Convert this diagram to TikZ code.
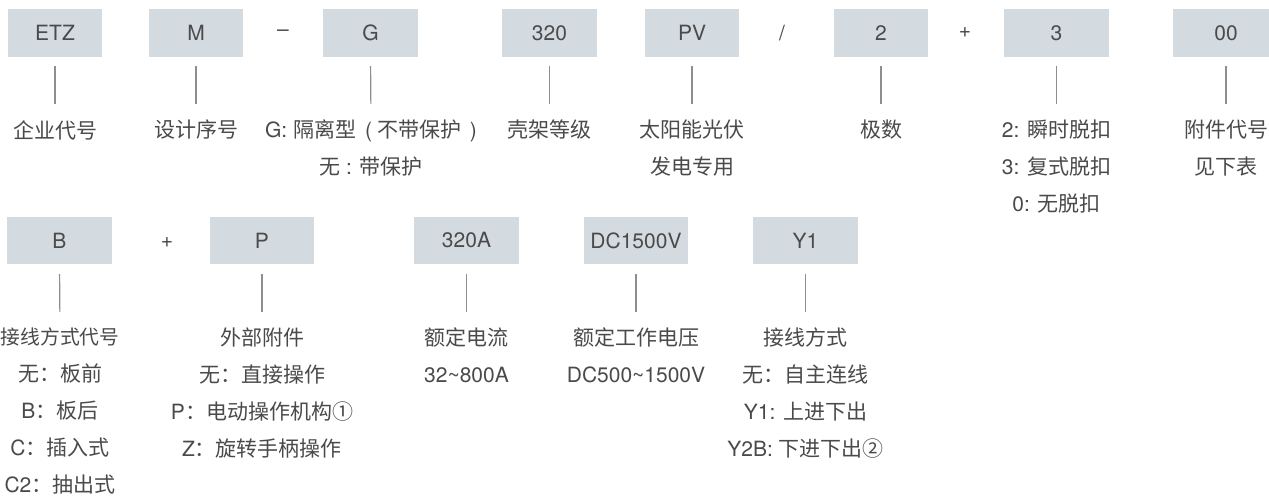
\documentclass[tikz,border=0pt]{standalone}
\usepackage{fontspec}
\setmainfont{TeX Gyre Heros}
\newfontfamily\cjk{Noto Sans CJK SC}
\newcommand\zh[1]{{\cjk #1}}
\definecolor{boxfill}{HTML}{D3DAE0}
\definecolor{txt}{HTML}{4A4A4A}
\definecolor{conn}{HTML}{8E8E8E}
\tikzset{
  codebox/.style={fill=boxfill, inner sep=0pt, minimum height=48pt, text=txt, font=\fontsize{21}{24}\selectfont},
  lab/.style={anchor=north, align=center, inner sep=0pt, text=txt, font=\fontsize{21}{37}\selectfont},
  sep/.style={inner sep=0pt, text=txt, font=\fontsize{21}{24}\selectfont},
  connline/.style={draw=conn, line width=1.2pt},
}
\begin{document}
\begin{tikzpicture}[x=1pt,y=-1pt]
\clip (0,0) rectangle (1269,497);
\fill[white] (0,0) rectangle (1269,497);
% row 1 boxes
\node[codebox, minimum width=94pt] (etz) at (55,33) {ETZ};
\node[codebox, minimum width=94pt] (m) at (196,33) {M};
\node[sep] (dash) at (283,33) {–};
\node[codebox, minimum width=95pt] (g) at (370.5,33) {G};
\node[codebox, minimum width=95pt] (k320) at (549.5,33) {320};
\node[codebox, minimum width=94pt] (pv) at (692,33) {PV};
\node[sep] (slash) at (782,33) {/};
\node[codebox, minimum width=94pt] (two) at (881,33) {2};
\node[sep] (plusa) at (965,33) {+};
\node[codebox, minimum width=105pt] (three) at (1056.5,33) {3};
\node[codebox, minimum width=106pt] (zz) at (1226,33) {00};
% row 1 labels
\node[lab] (etzl) at (55,120) {\zh{企业代号}};
\node[lab] (ml) at (196,120) {\zh{设计序号}};
\node[lab] (gl) at (371,120) {G: \zh{隔离型}\hspace{0.15em} ( \zh{不带保护} \hspace{0.1em})\\\zh{无} : \zh{带保护}};
\node[lab] (k320l) at (549.5,120) {\zh{壳架等级}};
\node[lab] (pvl) at (692,120) {\zh{太阳能光伏}\\\zh{发电专用}};
\node[lab] (twol) at (881,120) {\zh{极数}};
\node[lab] (threel) at (1056.5,120) {2: \zh{瞬时脱扣}\\3: \zh{复式脱扣}\\0: \zh{无脱扣}};
\node[lab] (zzl) at (1226,120) {\zh{附件代号}\\\zh{见下表}};
\foreach \a/\b in {etz/etzl, m/ml, g/gl, k320/k320l, pv/pvl, two/twol, three/threel, zz/zzl}
  \draw[connline, shorten <=9pt, shorten >=16pt] (\a.south) -- (\b.north);
% row 2 boxes
\node[codebox, minimum width=105pt, minimum height=47pt] (b) at (59.5,240.5) {B};
\node[sep] (plusb) at (167,243) {+};
\node[codebox, minimum width=104pt, minimum height=47pt] (p) at (262,240.5) {P};
\node[codebox, minimum width=105pt, minimum height=47pt] (amp) at (466.5,240.5) {320A};
\node[codebox, minimum width=104pt, minimum height=47pt] (volt) at (636,240.5) {DC1500V};
\node[codebox, minimum width=105pt, minimum height=47pt] (y) at (805.5,240.5) {Y1};
% row 2 labels
\node[lab] (bl) at (60,328) {{\fontsize{19.8}{37}\selectfont\zh{接线方式代号}}\\\zh{无：板前}\\B\zh{：板后}\\C\zh{：插入式}\\C2\zh{：抽出式}};
\node[lab] (pl) at (262,328) {\zh{外部附件}\\\zh{无：直接操作}\\P\zh{：电动操作机构①}\\Z\zh{：旋转手柄操作}};
\node[lab] (ampl) at (466.5,328) {\zh{额定电流}\\32\textasciitilde800A};
\node[lab] (voltl) at (636,328) {\zh{额定工作电压}\\DC500\textasciitilde1500V};
\node[lab] (yl) at (805.5,328) {\zh{接线方式}\\\zh{无：自主连线}\\Y1: \zh{上进下出}\\Y2B: \zh{下进下出②}};
\foreach \a/\b in {b/bl, p/pl, amp/ampl, volt/voltl, y/yl}
  \draw[connline, shorten <=10pt, shorten >=16pt] (\a.south) -- (\b.north);
\end{tikzpicture}
\end{document}
